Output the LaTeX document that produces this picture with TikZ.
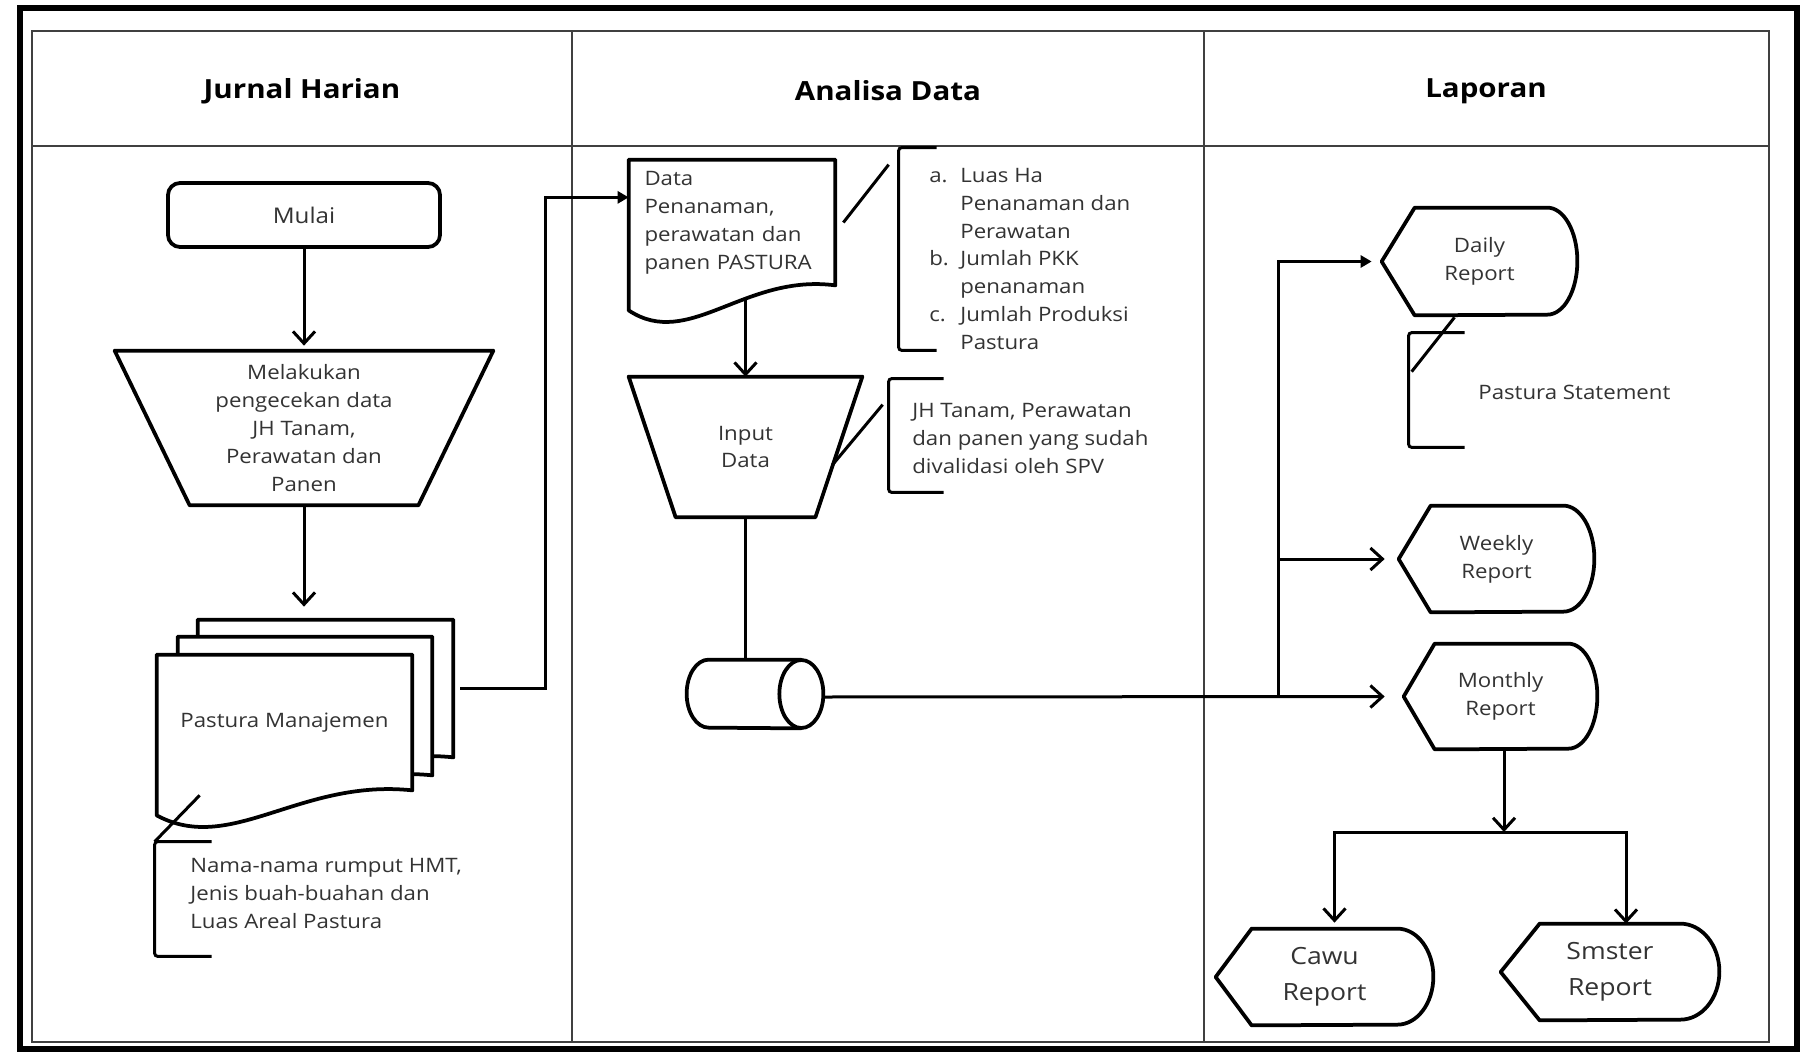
\documentclass[tikz,border=0pt]{standalone}
\usepackage{fontspec}
\setmainfont{Open Sans}[FakeStretch=1.12]
\usetikzlibrary{arrows.meta,calc,backgrounds}

\definecolor{inkgray}{HTML}{333333}

\tikzset{
  shapeline/.style={line width=0.75mm, line join=round},
  conn/.style={line width=0.6mm},
  arr/.style={conn, -{Straight Barb[length=2.4mm,width=4.4mm]}},
  arrf/.style={conn, -{Triangle[length=2.2mm,width=2.4mm]}},
  tabline/.style={line width=0.4mm, black!75},
  body/.style={inner sep=0pt, text=inkgray, align=center,
    font=\fontsize{11.3}{15.9}\selectfont},
  bigbody/.style={body, font=\fontsize{13.5}{20.5}\selectfont},
  note/.style={body, align=left, anchor=west},
  head/.style={inner sep=0pt, font=\fontsize{15}{18}\selectfont\bfseries},
  brk/.style={inner sep=0pt},
}

% document symbol with wavy bottom
\newcommand\docshape[1]{%
  \draw[shapeline, fill=white] (#1.south east) -- (#1.north east) -- (#1.north west)
    -- ($(#1.south west)+(0,-25)$)
    .. controls ($(#1.south west)!0.29!(#1.south east)+(0,-65)$)
    and ($(#1.south west)!0.56!(#1.south east)+(0,12)$) .. (#1.south east) -- cycle;}
% manual operation
\newcommand\manop[2]{%
  \draw[shapeline] (#1.north west) -- (#1.north east) -- ($(#1.south east)+(-#2,0)$)
    -- ($(#1.south west)+(#2,0)$) -- cycle;}
% display symbol
\newcommand\dispshape[4]{%
  \draw[shapeline] (#1.west) -- ($(#1.north west)+(#2,0)$) -- ($(#1.north east)+(-#3,0)$)
    arc[start angle=90, end angle=-90, x radius=#3*0.2mm, y radius=#4*0.2mm]
    -- ($(#1.south west)+(#2,0)$) -- cycle;}
% stored data drum, lying
\newcommand\drumshape[3]{%
  \draw[shapeline] ($(#1.north east)+(-#2,0)$) -- ($(#1.north west)+(#2,0)$)
    arc[start angle=90, end angle=270, x radius=#2*0.2mm, y radius=#3*0.2mm]
    -- ($(#1.south east)+(-#2,0)$);
  \draw[shapeline] ($(#1.east)+(-#2,0)$) ellipse[x radius=#2*0.2mm, y radius=#3*0.2mm];}
% annotation bracket
\newcommand\notebracket[2]{%
  \draw[conn, rounded corners=0.6mm] ($(#1.north west)+(#2,0)$) -- (#1.north west)
    -- (#1.south west) -- ($(#1.south west)+(#2,0)$);}

\begin{document}
\begin{tikzpicture}[x=0.2mm, y=0.2mm]
\useasboundingbox (0,0) rectangle (1805,-1055);

% frame and lanes
\draw[line width=1.2mm] (20,-8) rectangle (1797,-1049);
\draw[tabline] (32,-31) rectangle (1769,-1042);
\draw[tabline] (32,-146) -- (1769,-146);
\draw[tabline] (572,-31) -- (572,-1042);
\draw[tabline] (1204,-31) -- (1204,-1042);

\node[head] (h1) at (302,-91) {Jurnal Harian};
\node[head] (h2) at (888,-91) {Analisa Data};
\node[head] (h3) at (1486,-91) {Laporan};

% Jurnal Harian
\node[body, draw, shapeline, rounded corners=2.4mm, minimum width=54.4mm, minimum height=12.8mm,
  font=\fontsize{12.3}{15.9}\selectfont] (mulai) at (304,-215) {Mulai};
\node[body, minimum width=75.6mm, minimum height=30.8mm] (chk) at (304,-428)
  {Melakukan\\pengecekan data\\JH Tanam,\\Perawatan dan\\Panen};
\manop{chk}{75}

\node[body, minimum width=51mm, minimum height=27.4mm] (pm3) at (325.5,-688.5) {};
\node[body, minimum width=50.8mm, minimum height=27.6mm] (pm2) at (305,-706) {};
\node[body, minimum width=51mm, minimum height=27mm] (pm1) at (284.5,-722.5)
  {\raisebox{-1.6mm}{Pastura Manajemen}};

\node[brk, minimum width=11.4mm, minimum height=22.8mm] (pmbr) at (183.5,-899) {};
\notebracket{pmbr}{57}
\node[note] (pmtxt) at (190,-893.5) {Nama-nama rumput HMT,\\Jenis buah-buahan dan\\Luas Areal Pastura};
\draw[conn] ($(pm1.south west)+(43,-5)$) -- (pmbr.north west);

\draw[arr, shorten >=1mm] (mulai) -- (chk);
\draw[arr, shorten >=2.6mm] (chk.south) -- (chk.south |- pm3.north);

% Analisa Data
\node[body, align=left, text width=35mm, minimum width=41.2mm, minimum height=25mm] (data) at (732,-222.5)
  {Data\\Penanaman,\\perawatan dan\\panen PASTURA};

\node[brk, minimum width=7.6mm, minimum height=40.4mm] (dbr) at (918,-249) {};
\notebracket{dbr}{38}
\node[note] (dtxt) at (929,-259)
  {\makebox[6.2mm][l]{a.}Luas Ha\\
   \hspace*{6.2mm}Penanaman dan\\
   \hspace*{6.2mm}Perawatan\\
   \makebox[6.2mm][l]{b.}Jumlah PKK\\
   \hspace*{6.2mm}penanaman\\
   \makebox[6.2mm][l]{c.}Jumlah Produksi\\
   \hspace*{6.2mm}Pastura};
\draw[conn] ($(data.east)+(8,0)$) -- ($(dbr.north west)+(-10,-17)$);

\node[body, minimum width=46.6mm, minimum height=28mm] (inp) at (745.5,-447) {Input\\Data};
\manop{inp}{47}

\node[brk, minimum width=11mm, minimum height=22.6mm] (ibr) at (916.5,-435.5) {};
\notebracket{ibr}{55}
\node[note] (itxt) at (912,-438.5) {JH Tanam, Perawatan\\dan panen yang sudah\\divalidasi oleh SPV};
\draw[conn] ($(inp.east)+(-30,-18)$) -- ($(ibr.north west)+(-6,-26)$);

\node[brk, minimum width=27.2mm, minimum height=13.6mm] (cyl) at (755,-694) {};
\drumshape{cyl}{22}{34}

\draw[arrf] ($(pm3.east)+(7,0)$) -- ++(85,0) |- ($(data.north west)!0.3!(data.south west)$);
\draw[arr] ($(data.south -| inp.north)+(0,-14)$) -- (inp.north);
\draw[conn] (inp.south) -- (inp.south |- cyl.north);

% Laporan
\node[body, minimum width=39mm, minimum height=21.4mm] (daily) at (1479.5,-261.5) {Daily\\Report};
\dispshape{daily}{33}{30}{53.5}
\node[body, minimum width=39mm, minimum height=21.2mm] (wk) at (1496.5,-559) {Weekly\\Report};
\dispshape{wk}{32}{31}{53}
\node[body, minimum width=38.6mm, minimum height=21mm] (mon) at (1500.5,-696.5) {Monthly\\Report};
\dispshape{mon}{31}{29}{52.5}
\node[bigbody, minimum width=43.4mm, minimum height=19.2mm] (cawu) at (1324.5,-977) {Cawu\\Report};
\dispshape{cawu}{36}{36}{48}
\node[bigbody, minimum width=43.6mm, minimum height=19.2mm] (sms) at (1610,-972) {Smster\\Report};
\dispshape{sms}{39}{39}{48}

\node[brk, minimum width=11.2mm, minimum height=22.8mm] (dsbr) at (1437,-390) {};
\notebracket{dsbr}{56}
\node[note] (dstxt) at (1478,-392) {Pastura Statement};
\draw[conn] ($(daily.south)+(-25,-2)$) -- ($(dsbr.north west)+(3,-39)$);

\coordinate (bus) at (1278,-697);
\coordinate (split) at (1504,-832);
\draw[arr, shorten >=3.8mm] ($(cyl.east)+(0,-3)$) -- (mon.west);
\draw[arrf, shorten >=2mm] (bus) |- (daily.west);
\draw[arr, shorten >=2.8mm] (bus |- wk.west) -- (wk.west);
\draw[arr] (mon.south -| split) -- (split);
\draw[arr, shorten >=1.2mm] (split) -| ($(cawu.north)+(10,0)$);
\draw[arr] (split) -| ($(sms.north)+(16,0)$);

% document outlines under their texts
\begin{scope}[on background layer]
  \fill[white] (0,0) rectangle (1805,-1055);
  \docshape{pm3}
  \docshape{pm2}
  \docshape{pm1}
  \docshape{data}
\end{scope}
\end{tikzpicture}
\end{document}
